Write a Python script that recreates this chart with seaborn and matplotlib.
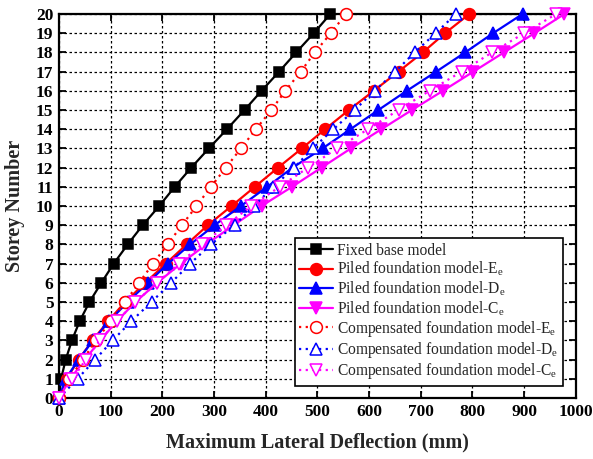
import matplotlib
matplotlib.use("Agg")
import matplotlib.pyplot as plt
import seaborn as sns
import pandas as pd

storey = list(range(21))
fixed = [0, 4, 13, 25, 40, 59, 82, 106, 133, 162, 194, 224, 256, 290, 325, 359, 392, 426, 459, 493, 525]
piled_E = [0, 15, 38, 65, 95, 128, 167, 207, 247, 288, 334, 379, 424, 470, 515, 561, 609, 657, 704, 747, 794]
piled_D = [0, 13, 38, 66, 97, 133, 172, 211, 254, 301, 352, 403, 452, 510, 564, 618, 673, 730, 786, 840, 897]
piled_C = [0, 22, 50, 80, 112, 148, 190, 236, 285, 338, 392, 451, 508, 565, 624, 683, 743, 802, 861, 920, 978]
comp_E = [0, 20, 46, 72, 100, 128, 155, 182, 210, 238, 266, 294, 323, 352, 381, 411, 438, 468, 495, 526, 555]
comp_D = [0, 36, 70, 104, 140, 179, 217, 254, 294, 340, 377, 415, 455, 491, 531, 572, 611, 651, 688, 729, 768]
comp_C = [0, 26, 52, 79, 112, 148, 190, 232, 277, 324, 372, 427, 482, 538, 598, 657, 717, 779, 838, 900, 962]

labels = [
    "Fixed base model",
    r"Piled foundation model-E$_\mathrm{e}$",
    r"Piled foundation model-D$_\mathrm{e}$",
    r"Piled foundation model-C$_\mathrm{e}$",
    r"Compensated foundation model-E$_\mathrm{e}$",
    r"Compensated foundation model-D$_\mathrm{e}$",
    r"Compensated foundation model-C$_\mathrm{e}$",
]
series = [fixed, piled_E, piled_D, piled_C, comp_E, comp_D, comp_C]

sns.set_theme(style="white")
plt.rcParams["font.family"] = ["Liberation Serif", "DejaVu Serif"]
plt.rcParams["mathtext.fontset"] = "custom"
plt.rcParams["mathtext.rm"] = "Liberation Serif"
plt.rcParams["mathtext.it"] = "Liberation Serif:italic"
plt.rcParams["mathtext.bf"] = "Liberation Serif:bold"

styles = [
    dict(color="black", marker="s", linestyle="-", mfc="black", ms=7.5),
    dict(color="red", marker="o", linestyle="-", mfc="red", ms=8.5),
    dict(color="blue", marker="^", linestyle="-", mfc="blue", ms=9),
    dict(color="magenta", marker="v", linestyle="-", mfc="magenta", ms=9),
    dict(color="red", marker="o", linestyle=(0, (1, 2)), mfc="white", ms=8.5),
    dict(color="blue", marker="^", linestyle=(0, (1, 2)), mfc="white", ms=9),
    dict(color="magenta", marker="v", linestyle=(0, (1, 2)), mfc="white", ms=9),
]

fig = plt.figure(figsize=(5.93, 4.59), dpi=100)
ax = fig.add_axes([0.0995, 0.133, 0.8715, 0.8365])

for vals, lab, st in zip(series, labels, styles):
    df = pd.DataFrame({"x": vals, "y": storey})
    sns.lineplot(data=df, x="x", y="y", sort=False, estimator=None, ax=ax,
                 color=st["color"], marker=st["marker"], linestyle=st["linestyle"],
                 linewidth=1.6, markersize=st["ms"], markerfacecolor=st["mfc"],
                 markeredgecolor=st["color"], markeredgewidth=1.1,
                 label=lab, clip_on=False, zorder=3)

ax.set_xlim(0, 1000)
ax.set_ylim(0, 20)
ax.set_xticks(range(0, 1001, 100))
ax.set_yticks(range(0, 21))
ax.grid(True, color="black", linestyle=(0, (2, 2)), linewidth=0.9)
for s in ax.spines.values():
    s.set_color("black")
    s.set_linewidth(1.6)
ax.tick_params(axis="both", which="both", direction="in", length=5, width=1.3,
               top=True, right=True, bottom=True, left=True, labelsize=12.5, pad=4,
               colors="black")
for lbl in ax.get_xticklabels() + ax.get_yticklabels():
    lbl.set_fontweight("bold")

ax.set_xlabel("Maximum Lateral Deflection (mm)", fontsize=14.5, fontweight="bold", labelpad=9)
ax.set_ylabel("Storey Number", fontsize=14.5, fontweight="bold", labelpad=8)

leg = ax.legend(loc="lower right", bbox_to_anchor=(0.975, 0.031), fontsize=11.2,
                frameon=True, fancybox=False, edgecolor="black", framealpha=1,
                handlelength=2.2, handletextpad=0.25, labelspacing=0.08,
                borderpad=0.3, borderaxespad=0)
leg.get_frame().set_linewidth(1.2)

fig.savefig("out.png", dpi=100)
